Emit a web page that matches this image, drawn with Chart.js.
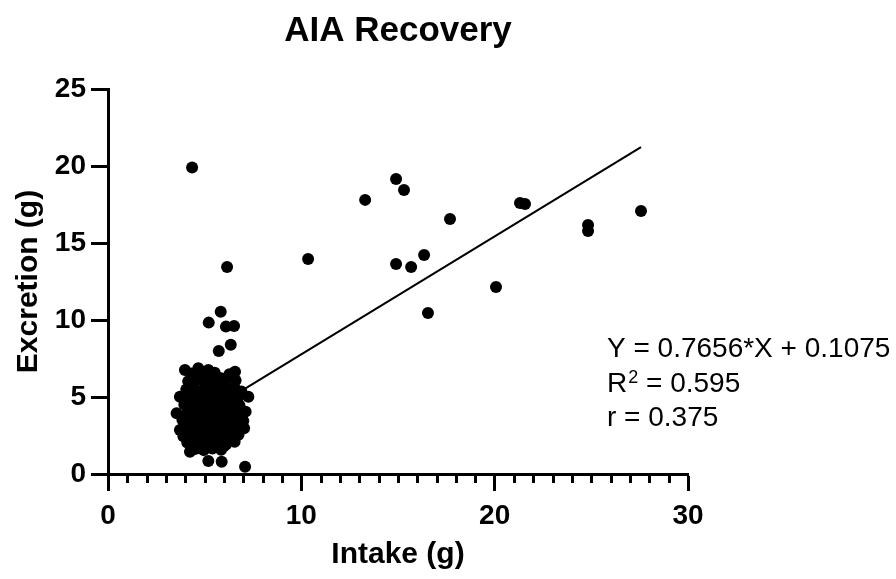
<!DOCTYPE html>
<html>
<head>
<meta charset="utf-8">
<title>AIA Recovery</title>
<script src="https://cdn.jsdelivr.net/npm/chart.js@4.4.1/dist/chart.umd.min.js"></script>
<style>
  body { margin: 0; background: #fff; }
  #wrap { width: 896px; height: 579px; }
</style>
</head>
<body>
<div id="wrap"><canvas id="recoveryChart"></canvas></div>
<script>
// Intake (g) and excretion (g) per subject
const intake = [
  4.35, 14.9, 15.31, 13.3, 17.69, 21.31, 21.57, 27.57, 24.83, 24.83,
  10.35, 14.9, 15.68, 16.35, 20.07, 16.55, 6.16,
  5.83, 5.21, 6.10, 6.52, 6.35, 5.73,
  5.19, 5.88, 7.09, 4.24,
  3.98, 4.67, 5.19, 6.57, 5.88, 3.72, 7.26, 3.55, 3.72, 7.12, 7.04,
  4.32, 4.95, 5.52, 6.28,
  4.5, 5.25, 5.8,
  4.15, 4.62, 5.05, 5.45, 6.05, 6.6,
  4.05, 4.45, 4.88, 5.3, 5.7, 6.15, 6.55, 6.9,
  4.25, 4.8, 5.6, 6.4,
  4.2, 4.6, 5.0, 5.4, 5.8, 6.2, 6.7,
  3.95, 4.35, 4.75, 5.15, 5.55, 5.95, 6.35, 6.8,
  4.15, 4.95, 5.75, 6.6,
  4.1, 4.5, 4.9, 5.3, 5.7, 6.1, 6.5, 6.9,
  3.85, 4.25, 4.65, 5.05, 5.45, 5.85, 6.25, 6.65, 7.0,
  4.4, 5.25, 6.05, 6.85,
  4.05, 4.45, 4.85, 5.25, 5.65, 6.05, 6.45, 6.85,
  3.9, 4.3, 4.7, 5.1, 5.5, 5.9, 6.3, 6.75,
  4.2, 5.0, 5.75, 6.5,
  4.1, 4.5, 4.9, 5.3, 5.7, 6.1, 6.55,
  4.3, 5.15, 6.0,
  4.5, 4.95, 5.4, 5.85
];
const excretion = [
  19.9, 19.16, 18.44, 17.8, 16.56, 17.6, 17.53, 17.08, 16.17, 15.78,
  13.96, 13.64, 13.44, 14.22, 12.14, 10.45, 13.44,
  10.54, 9.83, 9.57, 9.61, 8.40, 7.99,
  0.84, 0.80, 0.47, 1.45,
  6.75, 6.86, 6.75, 6.64, 6.2, 5.02, 5.02, 3.94, 2.86, 4.05, 2.97,
  6.52, 6.45, 6.58, 6.48,
  6.25, 6.3, 6.22,
  6.02, 6.1, 5.95, 6.05, 5.92, 6.08,
  5.48, 5.55, 5.42, 5.6, 5.5, 5.45, 5.58, 5.35,
  5.25, 5.28, 5.22, 5.3,
  5.05, 4.95, 5.1, 4.92, 5.02, 5.08, 4.9,
  4.52, 4.45, 4.58, 4.42, 4.55, 4.48, 4.6, 4.45,
  4.22, 4.28, 4.2, 4.25,
  3.98, 4.08, 3.92, 4.05, 3.95, 4.1, 3.9, 4.02,
  3.5, 3.58, 3.45, 3.55, 3.42, 3.6, 3.48, 3.52, 3.45,
  3.25, 3.22, 3.28, 3.2,
  3.02, 2.95, 3.08, 2.92, 3.05, 2.98, 3.1, 2.9,
  2.45, 2.55, 2.48, 2.58, 2.42, 2.52, 2.45, 2.55,
  2.25, 2.28, 2.22, 2.3,
  2.05, 1.95, 2.08, 1.98, 2.02, 1.92, 2.1,
  1.8, 1.78, 1.82,
  1.62, 1.55, 1.65, 1.58
];

// Linear fit Y = 0.7656*X + 0.1075, drawn across the intake range
const fitX = [3.55, 27.57];
const fitY = [2.83, 21.22];

const fitLines = ['Y = 0.7656*X + 0.1075', 'R', ' = 0.595', 'r = 0.375'];

const xTicks = [0, 10, 20, 30];
const yTicks = [0, 5, 10, 15, 20, 25];

Chart.defaults.font.family = '"Liberation Sans", Arial, Helvetica, sans-serif';
Chart.defaults.color = '#000';

const points = intake.map((x, i) => ({ x: x, y: excretion[i] }));
const fitPoints = fitX.map((x, i) => ({ x: x, y: fitY[i] }));

// small ticks every 1 g on the x axis, and the fit statistics text
const extras = {
  id: 'extras',
  afterDraw(chart) {
    const ctx = chart.ctx;
    const xs = chart.scales.x;
    const bottom = chart.chartArea.bottom;
    ctx.save();
    ctx.strokeStyle = '#000';
    ctx.lineWidth = 3;
    for (let v = xs.min + 1; v < xs.max; v++) {
      if (xTicks.includes(v)) continue;
      const px = Math.round(xs.getPixelForValue(v)) + 0.5;
      ctx.beginPath();
      ctx.moveTo(px, bottom);
      ctx.lineTo(px, bottom + 9);
      ctx.stroke();
    }

    const left = chart.chartArea.right - 81;
    ctx.fillStyle = '#000';
    ctx.textBaseline = 'alphabetic';
    ctx.textAlign = 'left';
    ctx.font = '28px "Liberation Sans", Arial, sans-serif';
    ctx.fillText(fitLines[0], left, 357);
    ctx.fillText(fitLines[1], left, 392);
    let w = ctx.measureText(fitLines[1]).width;
    ctx.font = '18px "Liberation Sans", Arial, sans-serif';
    ctx.fillText('2', left + w + 1, 383);
    w += ctx.measureText('2').width + 1;
    ctx.font = '28px "Liberation Sans", Arial, sans-serif';
    ctx.fillText(fitLines[2], left + w, 392);
    ctx.fillText(fitLines[3], left, 426);
    ctx.restore();
  }
};

const ctx = document.getElementById('recoveryChart').getContext('2d');
new Chart(ctx, {
  type: 'scatter',
  data: {
    datasets: [
      {
        label: 'Subjects',
        data: points,
        backgroundColor: '#000',
        borderWidth: 0,
        pointRadius: 6,
        pointHoverRadius: 6,
        order: 1,
      },
      {
        type: 'line',
        label: 'Fit',
        data: fitPoints,
        borderColor: '#000',
        borderWidth: 2,
        pointRadius: 0,
        fill: false,
        order: 2,
      },
    ],
  },
  options: {
    responsive: true,
    maintainAspectRatio: false,
    animation: false,
    events: [],
    clip: false,
    layout: { padding: { left: 0, right: 208, top: 0, bottom: 0 } },
    plugins: {
      legend: { display: false },
      tooltip: { enabled: false },
      title: {
        display: true,
        text: 'AIA Recovery',
        fullSize: false,
        color: '#000',
        font: { size: 35, weight: 'bold' },
        padding: { top: 10, bottom: 37 },
      },
    },
    scales: {
      x: {
        type: 'linear',
        min: 0,
        max: 30,
        afterBuildTicks: (s) => { s.ticks = xTicks.map((v) => ({ value: v })); },
        afterFit: (s) => { s.height = 105; },
        border: { display: true, color: '#000', width: 3 },
        grid: { drawOnChartArea: false, drawTicks: true, tickLength: 17, tickWidth: 3, tickColor: '#000', color: '#000' },
        ticks: { color: '#000', padding: 8, font: { size: 28, weight: 'bold' } },
        title: { display: true, text: 'Intake (g)', color: '#000', font: { size: 30, weight: 'bold' }, padding: { top: 0, bottom: 6 } },
      },
      y: {
        type: 'linear',
        min: 0,
        max: 25,
        afterBuildTicks: (s) => { s.ticks = yTicks.map((v) => ({ value: v })); },
        afterFit: (s) => { s.width = 108; },
        border: { display: true, color: '#000', width: 3 },
        grid: { drawOnChartArea: false, drawTicks: true, tickLength: 17, tickWidth: 3, tickColor: '#000', color: '#000' },
        ticks: { color: '#000', padding: 5, font: { size: 28, weight: 'bold' } },
        title: { display: true, text: 'Excretion (g)', color: '#000', font: { size: 30, weight: 'bold' }, padding: { top: 11, bottom: 0 } },
      },
    },
  },
  plugins: [extras],
});
</script>
</body>
</html>
